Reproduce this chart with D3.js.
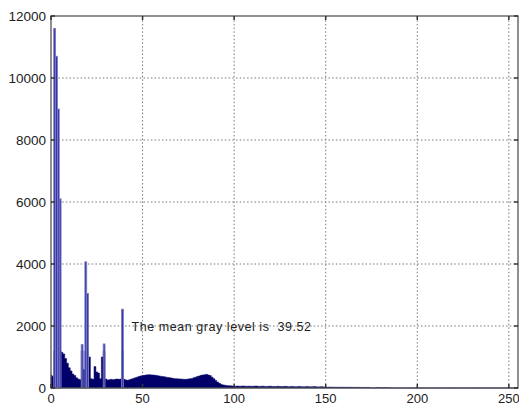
<!DOCTYPE html>
<meta charset="utf-8">
<script src="https://cdn.jsdelivr.net/npm/d3@7"></script>
<style>
 body { margin: 0; background: #fff; }
 text { font-family: Arial, "Liberation Sans", sans-serif; }
</style>
<div id="container"></div>
<script>
 var width = 519;
 var height = 406;
 var margin = {top: 16, right: 1, bottom: 18, left: 51};

 // gray level counts, 0..255
 var counts = [
   420, 380, 11600, 10700, 9000, 6100, 1150, 1100, 950, 800,
   650, 550, 450, 400, 330, 290, 270, 1400, 600, 4070,
   3050, 1000, 300, 280, 690, 520, 480, 300, 1000, 1420,
   290, 260, 270, 280, 270, 280, 290, 280, 290, 2540,
   280, 260, 250, 270, 290, 310, 330, 350, 370, 390,
   400, 410, 420, 425, 430, 420, 420, 410, 400, 390,
   380, 370, 360, 350, 340, 330, 320, 310, 300, 300,
   290, 290, 285, 280, 280, 290, 300, 310, 330, 350,
   370, 390, 410, 420, 430, 440, 420, 400, 350, 300,
   240, 190, 150, 120, 100, 90, 80, 75, 70, 65,
   62, 60, 64, 58, 60, 66, 58, 55, 60, 57,
   54, 58, 62, 55, 52, 56, 60, 52, 50, 55,
   58, 50, 48, 52, 56, 48, 46, 50, 54, 46,
   44, 48, 52, 44, 42, 46, 50, 42, 40, 44,
   48, 40, 38, 42, 45, 38, 36, 40, 42, 35,
   30, 28, 30, 26, 28, 25, 27, 24, 26, 23,
   25, 22, 24, 21, 23, 20, 22, 19, 21, 18,
   20, 18, 19, 17, 18, 0, 0, 0, 16, 15,
   14, 0, 13, 12, 0, 10, 0, 0, 0, 0,
   0, 0, 0, 0, 0, 0, 0, 0, 0, 0,
   0, 0, 0, 0, 0, 0, 0, 0, 0, 0,
   0, 0, 0, 0, 0, 0, 0, 0, 0, 0,
   0, 0, 0, 0, 0, 0, 0, 0, 0, 0,
   0, 0, 0, 0, 0, 0, 0, 0, 0, 0,
   0, 0, 0, 0, 0, 0, 0, 0, 0, 0,
   0, 0, 0, 0, 0, 0
 ];
 var xTicks = [0, 50, 100, 150, 200, 250];
 var yTicks = [0, 2000, 4000, 6000, 8000, 10000, 12000];
 var meanLabel = "The mean gray level is  39.52";
 var meanAt = [44, 2000];

 var svg = d3.select("#container")
             .append("svg")
             .attr("width", width)
             .attr("height", height);

 var x = d3.scaleLinear().domain([0, 255]).range([margin.left, width - margin.right]);
 var y = d3.scaleLinear().domain([0, 12000]).range([height - margin.bottom, margin.top]);

 // dotted grid
 var grid = svg.append("g");
 grid.selectAll("line.vx")
     .data(xTicks.filter(d => d > 0))
     .enter().append("line")
     .attr("x1", d => x(d)).attr("x2", d => x(d))
     .attr("y1", y(0)).attr("y2", y(12000))
     .attr("stroke", "#777").attr("stroke-dasharray", "1.5,2.2");
 grid.selectAll("line.hy")
     .data(yTicks.filter(d => d > 0 && d < 12000))
     .enter().append("line")
     .attr("y1", d => y(d)).attr("y2", d => y(d))
     .attr("x1", x(0)).attr("x2", x(255))
     .attr("stroke", "#777").attr("stroke-dasharray", "1.5,2.2");

 // bars: the dense low part as one stepped navy shape, the spikes as thin outlined bars
 var cap = 1200;
 var base = d3.area()
              .curve(d3.curveStep)
              .x((d, i) => x(i))
              .y0(y(0))
              .y1(d => y(Math.min(d, cap)));
 var bars = svg.append("g");
 bars.append("path")
     .datum(counts)
     .attr("d", base)
     .attr("fill", "#000068")
     .attr("stroke", "#000068")
     .attr("stroke-width", 0.5);
 bars.selectAll("rect.spike")
     .data(counts.map((d, i) => [i, d]).filter(d => d[1] > cap))
     .enter().append("rect")
     .attr("x", d => x(d[0]) - 0.9)
     .attr("width", 1.8)
     .attr("y", d => y(d[1]))
     .attr("height", d => y(0) - y(d[1]))
     .attr("fill", "#2a2ac0")
     .attr("stroke", "#7e7eb2")
     .attr("stroke-width", 0.9);

 // axes box and inward ticks
 var axisG = svg.append("g");
 axisG.append("rect")
      .attr("x", x(0)).attr("y", y(12000))
      .attr("width", x(255) - x(0)).attr("height", y(0) - y(12000))
      .attr("fill", "none").attr("stroke", "#555").attr("stroke-width", 1.3);

 axisG.selectAll("line.xt")
      .data(xTicks)
      .enter().append("line")
      .attr("x1", d => x(d)).attr("x2", d => x(d))
      .attr("y1", y(0)).attr("y2", y(0) - 4)
      .attr("stroke", "#333").attr("stroke-width", 1.5);
 axisG.selectAll("line.xt2")
      .data(xTicks)
      .enter().append("line")
      .attr("x1", d => x(d)).attr("x2", d => x(d))
      .attr("y1", y(12000)).attr("y2", y(12000) + 4)
      .attr("stroke", "#333").attr("stroke-width", 1.5);
 axisG.selectAll("line.yt")
      .data(yTicks)
      .enter().append("line")
      .attr("y1", d => y(d)).attr("y2", d => y(d))
      .attr("x1", x(0)).attr("x2", x(0) + 4)
      .attr("stroke", "#333").attr("stroke-width", 1.5);
 axisG.selectAll("line.yt2")
      .data(yTicks)
      .enter().append("line")
      .attr("y1", d => y(d)).attr("y2", d => y(d))
      .attr("x1", x(255)).attr("x2", x(255) - 4)
      .attr("stroke", "#333").attr("stroke-width", 1.5);

 // tick labels
 axisG.selectAll("text.xl")
      .data(xTicks)
      .enter().append("text")
      .attr("x", d => x(d))
      .attr("y", y(0) + 15)
      .attr("text-anchor", "middle")
      .attr("font-size", 13)
      .attr("fill", "#222")
      .text(d => d);
 axisG.selectAll("text.yl")
      .data(yTicks)
      .enter().append("text")
      .attr("x", x(0) - 5)
      .attr("y", d => y(d) + 5)
      .attr("text-anchor", "end")
      .attr("font-size", 13.5)
      .attr("fill", "#222")
      .text(d => d);

 // mean label
 svg.append("text")
    .attr("x", x(meanAt[0]))
    .attr("y", y(meanAt[1]) + 4.5)
    .attr("font-size", 12.5)
    .attr("letter-spacing", 0.55)
    .attr("fill", "#222")
    .style("white-space", "pre")
    .text(meanLabel);
</script>
